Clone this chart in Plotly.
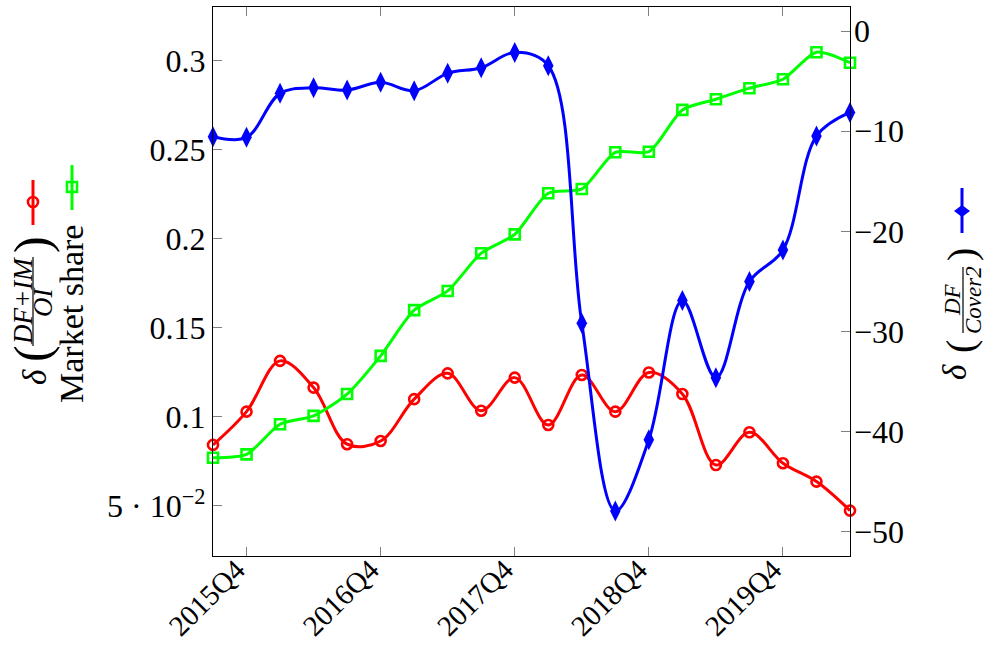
import plotly.graph_objects as go

quarters = ["2015Q3", "2015Q4", "2016Q1", "2016Q2", "2016Q3", "2016Q4", "2017Q1", "2017Q2",
            "2017Q3", "2017Q4", "2018Q1", "2018Q2", "2018Q3", "2018Q4", "2019Q1", "2019Q2",
            "2019Q3", "2019Q4", "2020Q1", "2020Q2"]
delta_dfim_oi = [0.0843, 0.103, 0.1315, 0.1165, 0.0847, 0.0865, 0.110, 0.1245, 0.1035, 0.1221,
                 0.0955, 0.1236, 0.103, 0.125, 0.1129, 0.073, 0.0914, 0.074, 0.0637, 0.0474]
market_share = [0.0771, 0.079, 0.0959, 0.1006, 0.1129, 0.1343, 0.160, 0.1708, 0.192, 0.2026,
                0.2257, 0.2281, 0.2487, 0.249, 0.2725, 0.2785, 0.2847, 0.2897, 0.3049, 0.299]
delta_df_cover2 = [-10.55, -10.61, -6.22, -5.66, -5.89, -5.12, -5.96, -4.22, -3.66, -2.13,
                   -3.46, -29.17, -47.9, -40.8, -26.9, -34.6, -25.0, -21.86, -10.48, -8.12]

x_tickvals = ["2015Q4", "2016Q4", "2017Q4", "2018Q4", "2019Q4"]
left_tickvals = [0.05, 0.1, 0.15, 0.2, 0.25, 0.3]
left_ticktext = ["5 · 10<sup>−2</sup>", "0.1", "0.15", "0.2", "0.25", "0.3"]
right_tickvals = [0, -10, -20, -30, -40, -50]
right_ticktext = ["0", "−10", "−20", "−30", "−40", "−50"]

RED, GREEN, BLUE = "#ff0000", "#00ff00", "#0000ff"
FONT = "Liberation Serif"
W, H = 987, 645
L, R, T, B = 213, 850, 7, 556


def px(x):
    return (x - L) / (R - L)


def py(y):
    return (B - y) / (B - T)


fig = go.Figure()
fig.add_trace(go.Scatter(
    x=quarters, y=delta_dfim_oi, mode="lines+markers", yaxis="y",
    line=dict(color=RED, width=3, shape="spline", smoothing=1.0),
    marker=dict(symbol="circle-open", size=10, color=RED, line=dict(width=2.6, color=RED)),
    cliponaxis=False, showlegend=False))
fig.add_trace(go.Scatter(
    x=quarters, y=market_share, mode="lines+markers", yaxis="y",
    line=dict(color=GREEN, width=3, shape="spline", smoothing=0.7),
    marker=dict(symbol="square-open", size=10, color=GREEN, line=dict(width=2.6, color=GREEN)),
    cliponaxis=False, showlegend=False))
fig.add_trace(go.Scatter(
    x=quarters, y=delta_df_cover2, mode="lines+markers", yaxis="y2",
    line=dict(color=BLUE, width=3, shape="spline", smoothing=1.0),
    marker=dict(symbol="diamond-tall", size=15, color=BLUE, line=dict(width=0)),
    cliponaxis=False, showlegend=False))

yfont = dict(family=FONT, size=32, color="black")
xfont = dict(family=FONT, size=29, color="black")

fig.update_layout(
    width=W, height=H,
    margin=dict(l=L, r=W - R, t=T, b=H - B, autoexpand=False),
    plot_bgcolor="white", paper_bgcolor="white",
    xaxis=dict(type="category", categoryorder="array", categoryarray=quarters,
               range=[0, len(quarters) - 1], tickmode="array", tickvals=x_tickvals,
               ticktext=x_tickvals, tickangle=-45, tickfont=xfont,
               ticklabelstandoff=-16, ticklabelshift=-10,
               ticks="inside", ticklen=9, tickcolor="#808080", tickwidth=1,
               showline=True, linecolor="black", linewidth=1.2, mirror="ticks",
               showgrid=False, zeroline=False),
    yaxis=dict(range=[0.0219, 0.3303], tickmode="array", tickvals=left_tickvals,
               ticktext=left_ticktext, tickfont=yfont,
               ticks="inside", ticklen=9, tickcolor="#808080", tickwidth=1,
               showline=True, linecolor="black", linewidth=1.2, mirror=True,
               showgrid=False, zeroline=False),
    yaxis2=dict(range=[-52.4, 2.4], overlaying="y", side="right", tickmode="array",
                tickvals=right_tickvals, ticktext=right_ticktext, tickfont=yfont,
                ticklabelstandoff=3,
                ticks="inside", ticklen=9, tickcolor="#808080", tickwidth=1,
                showline=False, showgrid=False, zeroline=False),
)

ann = []
shapes = []


def text(x, y, s, size, italic=False, color="black"):
    if italic:
        s = "<i>" + s + "</i>"
    ann.append(dict(x=px(x), y=py(y), xref="paper", yref="paper", text=s, showarrow=False,
                    textangle=-90, xanchor="center", yanchor="middle",
                    font=dict(family=FONT, size=size, color=color)))


def vline(x, y0, y1, color, width):
    shapes.append(dict(type="line", xref="paper", yref="paper", x0=px(x), x1=px(x),
                       y0=py(y0), y1=py(y1), line=dict(color=color, width=width)))


# left title, column 1: delta((DF+IM)/OI)
text(35, 377, "δ", 33, italic=True)
text(32, 354, "(", 50)
text(23, 301, "DF+IM", 27, italic=True)
vline(33, 257, 346, "black", 1.2)
text(43, 302, "OI", 27, italic=True)
text(32, 245, ")", 50)
# red legend glyph
vline(33, 180, 225, RED, 3)
shapes.append(dict(type="circle", xref="paper", yref="paper",
                   x0=px(28), x1=px(38), y0=py(197), y1=py(207),
                   line=dict(color=RED, width=2.6)))
# left title, column 2: Market share
text(71, 314, "Market share", 34)
vline(72, 165, 210, GREEN, 3)
shapes.append(dict(type="rect", xref="paper", yref="paper",
                   x0=px(67), x1=px(77), y0=py(182), y1=py(192),
                   line=dict(color=GREEN, width=2.6)))

# right title: delta(DF/Cover2)
text(955, 372, "δ", 33, italic=True)
text(961, 347, "(", 40)
text(952, 300, "DF", 23, italic=True)
vline(963, 267, 333, "black", 1.2)
text(973, 300, "Cover2", 23, italic=True)
text(961, 255, ")", 40)
vline(962, 188, 233, BLUE, 3)
shapes.append(dict(type="path", xref="paper", yref="paper",
                   path="M {a},{b} L {c},{d} L {a},{e} L {f},{d} Z".format(
                       a=px(962), b=py(205), c=px(970), d=py(211), e=py(217), f=px(954)),
                   fillcolor=BLUE, line=dict(color=BLUE, width=0)))

fig.update_layout(annotations=ann, shapes=shapes)
fig.write_html("out.html", config={"displayModeBar": False},
               post_script="document.body.style.margin='0';document.body.style.overflow='hidden';")
